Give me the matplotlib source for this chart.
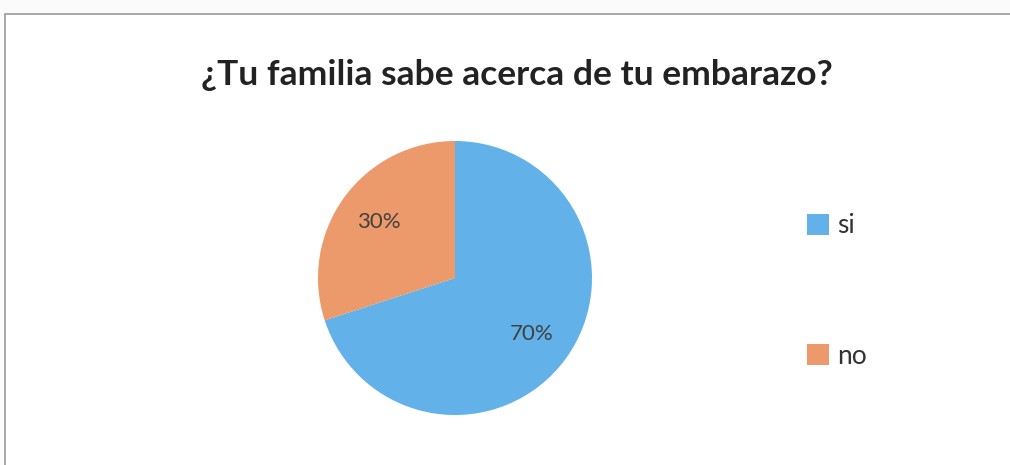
import matplotlib
matplotlib.use("Agg")
import matplotlib.pyplot as plt
from matplotlib.patches import Rectangle, Patch

# data
labels = ["si", "no"]
values = [70, 30]
colors = ["#62B1E8", "#EC9A6C"]
title = "¿Tu familia sabe acerca de tu embarazo?"

plt.rcParams['font.family'] = ['Lato', 'DejaVu Sans']

W, H = 1010, 465
fig = plt.figure(figsize=(W / 100, H / 100), dpi=100)
fig.patch.set_facecolor("#fbfbfb")

# chart frame
fig.add_artist(Rectangle((5 / W, -0.1), 1.2, 1.1 - 14 / H, transform=fig.transFigure,
                         facecolor="white", edgecolor="#9a9a9a", lw=1.2, zorder=0))

# pie: centre ~(455, 278), radius ~137 px
cx, cy, r = 455, 278, 137
ax = fig.add_axes([(cx - r) / W, (H - cy - r) / H, 2 * r / W, 2 * r / H])
wedges, texts, autotexts = ax.pie(values, colors=colors, startangle=90, counterclock=False,
                                  autopct="%1.0f%%", pctdistance=0.69,
                                  wedgeprops=dict(linewidth=0))
for t in autotexts:
    t.set_fontsize(16)
    t.set_color("#404040")
ax.set_xlim(-1, 1)
ax.set_ylim(-1, 1)
ax.set_aspect("equal")

fig.text(0.512, 1 - 75 / H, title, ha="center", va="center",
         fontsize=25.5, fontweight="bold", color="#222222")

handles = [Patch(facecolor=c, edgecolor="none") for c in colors]
fig.legend(handles, labels, loc="center left", bbox_to_anchor=(783 / W, 1 - 291 / H),
           frameon=False, fontsize=19, labelspacing=4.0, handlelength=0.85,
           handleheight=0.85, handletextpad=0.3, labelcolor="#333333")

fig.savefig("out.png", dpi=100, facecolor=fig.get_facecolor())
